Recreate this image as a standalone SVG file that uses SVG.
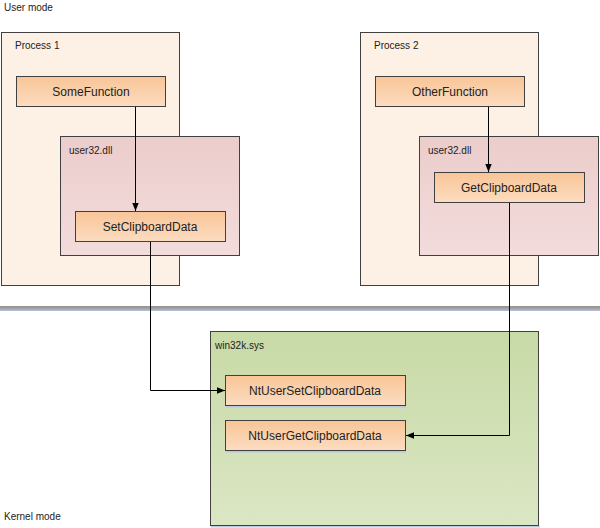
<svg xmlns="http://www.w3.org/2000/svg" width="600" height="528" viewBox="0 0 600 528">
<defs>
<linearGradient id="gFn" x1="0" y1="0" x2="0" y2="1"><stop offset="0" stop-color="#f8c597"/><stop offset="1" stop-color="#fcdcc0"/></linearGradient>
<linearGradient id="gDll" x1="0" y1="0" x2="0" y2="1"><stop offset="0" stop-color="#ebcdcb"/><stop offset="1" stop-color="#f3dcdc"/></linearGradient>
<linearGradient id="gK" x1="0" y1="0" x2="0" y2="1"><stop offset="0" stop-color="#c8daa6"/><stop offset="1" stop-color="#dbe6c4"/></linearGradient>
<linearGradient id="gSep" x1="0" y1="0" x2="0" y2="1"><stop offset="0" stop-color="#8f8f8f"/><stop offset="0.6" stop-color="#a8a8a8"/><stop offset="1" stop-color="#b4c6e4"/></linearGradient>
<marker id="arr" viewBox="0 0 10 10" refX="10" refY="5" markerWidth="8" markerHeight="8" markerUnits="userSpaceOnUse" orient="auto"><path d="M0,1 L10,5 L0,9 Z" fill="#000"/></marker>
</defs>
<style>
text{font-family:"Liberation Sans",Arial,sans-serif;fill:#222}
.lbl{font-size:10px}
.fn{font-size:12px;text-anchor:middle}
.box{stroke:#404040;stroke-width:1}
.sh{fill:#b8c8e0}
.conn{fill:none;stroke:#000;stroke-width:1}
</style>
<text class="lbl" x="4" y="11">User mode</text>
<text class="lbl" x="4" y="520">Kernel mode</text>
<rect x="0" y="306" width="600" height="5" fill="url(#gSep)"/>

<g id="process1">
<rect x="1.5" y="32.5" width="178" height="253" fill="#fdf0e5" class="box"/>
<text class="lbl" x="15" y="49">Process 1</text>
</g>
<g id="process2">
<rect x="360.5" y="32.5" width="178" height="253" fill="#fdf0e5" class="box"/>
<text class="lbl" x="374" y="49">Process 2</text>
</g>
<g id="user32-1">
<rect x="60.5" y="136.5" width="179" height="119" fill="url(#gDll)" class="box"/>
<text class="lbl" x="69" y="154">user32.dll</text>
</g>
<g id="user32-2">
<rect x="419.5" y="136.5" width="179" height="119" fill="url(#gDll)" class="box"/>
<text class="lbl" x="428" y="154">user32.dll</text>
</g>
<g id="win32k">
<rect x="211" y="526" width="329" height="1.5" class="sh"/>
<rect x="210.5" y="331.5" width="328" height="194" fill="url(#gK)" class="box"/>
<text class="lbl" x="215" y="349">win32k.sys</text>
</g>
<g id="SomeFunction">
<rect x="16.5" y="76.5" width="149" height="30" fill="url(#gFn)" class="box"/>
<text class="fn" x="91" y="95.5">SomeFunction</text>
</g>
<g id="OtherFunction">
<rect x="375.5" y="76.5" width="149" height="30" fill="url(#gFn)" class="box"/>
<text class="fn" x="450" y="95.5">OtherFunction</text>
</g>
<g id="SetClipboardData">
<rect x="75.5" y="211.5" width="150" height="30" fill="url(#gFn)" class="box"/>
<text class="fn" x="150" y="230.5">SetClipboardData</text>
</g>
<g id="GetClipboardData">
<rect x="434.5" y="172.5" width="150" height="30" fill="url(#gFn)" class="box"/>
<text class="fn" x="509" y="191.5">GetClipboardData</text>
</g>
<g id="NtUserSetClipboardData">
<rect x="226" y="406" width="180" height="1.5" class="sh"/>
<rect x="225.5" y="375.5" width="180" height="30" fill="url(#gFn)" class="box"/>
<text class="fn" x="315" y="394.5">NtUserSetClipboardData</text>
</g>
<g id="NtUserGetClipboardData">
<rect x="226" y="451" width="180" height="1.5" class="sh"/>
<rect x="225.5" y="420.5" width="180" height="30" fill="url(#gFn)" class="box"/>
<text class="fn" x="315" y="439.5">NtUserGetClipboardData</text>
</g>
<g id="connectors">
<path class="conn" d="M135.5,107 V211" marker-end="url(#arr)"/>
<path class="conn" d="M488.5,107 V172" marker-end="url(#arr)"/>
<path class="conn" d="M150.5,242 V390.5 H225" marker-end="url(#arr)"/>
<path class="conn" d="M509.5,203 V435.5 H406" marker-end="url(#arr)"/>
</g>
</svg>
